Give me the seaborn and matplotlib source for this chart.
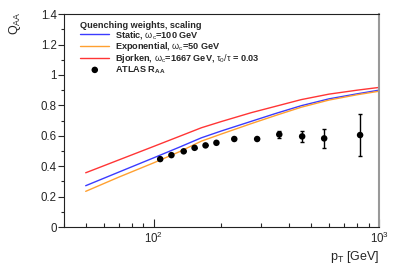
# Quenching weights (scaling) vs ATLAS jet R_AA
import numpy as np
import pandas as pd
import matplotlib
matplotlib.use('Agg')
import matplotlib.pyplot as plt
import matplotlib.ticker as mticker
import seaborn as sns

# model curves
pt_curve = [50, 70, 100, 130, 163, 200, 271, 350, 452, 600, 800, 1000]
q_static = [0.272, 0.361, 0.455, 0.525, 0.587, 0.632, 0.695, 0.748, 0.798, 0.843, 0.876, 0.900]
q_expo = [0.235, 0.328, 0.422, 0.495, 0.565, 0.612, 0.680, 0.735, 0.788, 0.835, 0.870, 0.893]
q_bjorken = [0.357, 0.441, 0.530, 0.596, 0.653, 0.694, 0.752, 0.795, 0.838, 0.874, 0.900, 0.918]

# ATLAS R_AA points
pt_atlas = [107, 120, 136, 152, 170, 190, 228, 288, 361, 456, 571, 824]
raa_atlas = [0.447, 0.473, 0.498, 0.521, 0.537, 0.554, 0.579, 0.579, 0.609, 0.596, 0.583, 0.605]
raa_err = [0.0, 0.0, 0.0, 0.0, 0.0, 0.0, 0.0, 0.0, 0.022, 0.035, 0.06, 0.14]

labels = ['Static, $\\mathrm{\\omega_{c}}$=100 GeV',
          'Exponential, $\\mathrm{\\omega_{c}}$=50 GeV',
          'Bjorken, $\\mathrm{\\omega_{c}}$=1667 GeV, $\\mathrm{\\tau_{0}/\\tau}$ = 0.03']
colors = ['#3b3bff', '#ffa030', '#ff3535']

sns.set_style('white')
plt.rcParams['font.family'] = ['Liberation Sans', 'DejaVu Sans']
plt.rcParams['mathtext.fontset'] = 'custom'
plt.rcParams['mathtext.rm'] = 'Liberation Sans'
plt.rcParams['mathtext.it'] = 'Liberation Sans:italic'
plt.rcParams['mathtext.bf'] = 'Liberation Sans:bold'

curves = pd.DataFrame({
    'pt': pt_curve * 3,
    'q': q_static + q_expo + q_bjorken,
    'model': [labels[0]] * len(pt_curve) + [labels[1]] * len(pt_curve) + [labels[2]] * len(pt_curve),
})
atlas = pd.DataFrame({'pt': pt_atlas, 'raa': raa_atlas, 'err': raa_err})

fig = plt.figure(figsize=(3.99, 2.71), dpi=100)
ax = fig.add_axes([0.160, 0.162, 0.790, 0.786])

sns.lineplot(data=curves, x='pt', y='q', hue='model', palette=colors,
             hue_order=labels, linewidth=1.0, ax=ax)
ax.errorbar(atlas['pt'], atlas['raa'], yerr=atlas['err'], fmt='none',
            ecolor='black', elinewidth=1.0, capsize=1.2, zorder=4)
sns.scatterplot(data=atlas, x='pt', y='raa', color='black', s=22,
                edgecolor='none', ax=ax, zorder=5,
                label='ATLAS R$_{\\mathbf{AA}}$')

ax.set_xscale('log')
ax.set_xlim(40, 1000)
ax.set_ylim(0, 1.4)
ax.set_xlabel('')
ax.set_ylabel('')

ax.yaxis.set_major_locator(mticker.MultipleLocator(0.2))
ax.yaxis.set_minor_locator(mticker.MultipleLocator(0.1))
ax.yaxis.set_major_formatter(mticker.FuncFormatter(lambda v, p: '%g' % round(v, 2)))
ax.xaxis.set_minor_locator(mticker.LogLocator(base=10, subs=np.arange(2, 10)))
ax.xaxis.set_minor_formatter(mticker.NullFormatter())
ax.tick_params(axis='y', which='major', direction='out', length=4, width=0.8, labelsize=8.3, left=True, pad=1)
ax.tick_params(axis='y', which='minor', direction='out', length=2, width=0.8, left=True)
ax.tick_params(axis='x', which='major', direction='in', length=6, width=0.8, labelsize=8.3, bottom=True, pad=3)
ax.tick_params(axis='x', which='minor', direction='in', length=3, width=0.8, bottom=True)

for side in ['left', 'bottom', 'top']:
    ax.spines[side].set_color('#222222')
    ax.spines[side].set_linewidth(0.8)
ax.spines['right'].set_color('#999999')
ax.spines['right'].set_linewidth(1.5)

leg = ax.legend(loc='upper left', bbox_to_anchor=(0.04, 0.985), frameon=False,
                title='Quenching weights, scaling', alignment='left',
                prop={'weight': 'bold', 'size': 6.6}, handlelength=3.2,
                handletextpad=0.6, labelspacing=-0.1, borderaxespad=0.0)
leg.get_title().set_fontweight('bold')
leg.get_title().set_fontsize(6.6)

fig.text(15 / 399, 1 - 23 / 271, '$\\mathregular{Q_{AA}}$', rotation=90,
         ha='center', va='center', fontsize=9)
fig.text(379 / 399, 1 - 257 / 271, '$\\mathregular{p_{T}}$ [GeV]',
         ha='right', va='center', fontsize=9)

fig.savefig('out.png', dpi=100)
